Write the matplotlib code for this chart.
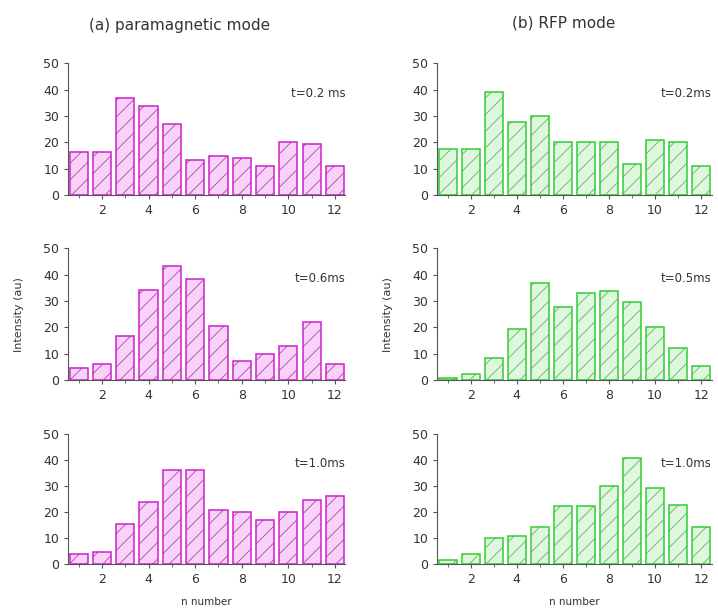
import matplotlib
matplotlib.use('Agg')
import matplotlib.pyplot as plt
from matplotlib.ticker import MultipleLocator

n = list(range(1, 13))

# (a) paramagnetic mode
para_02 = [16.5, 16.5, 36.8, 33.8, 27.0, 13.3, 14.8, 14.2, 11.0, 20.2, 19.6, 11.0]
para_06 = [4.5, 6.0, 16.8, 34.3, 43.4, 38.3, 20.5, 7.4, 10.0, 13.0, 22.0, 6.0]
para_10 = [3.8, 4.6, 15.4, 24.0, 36.2, 36.2, 20.9, 20.0, 17.0, 20.0, 24.7, 26.3]

# (b) RFP mode
rfp_02 = [17.5, 17.5, 39.0, 27.8, 30.0, 20.0, 20.0, 20.0, 11.8, 20.9, 20.0, 11.0]
rfp_06 = [0.6, 2.2, 8.2, 19.4, 36.7, 27.7, 32.9, 33.7, 29.6, 20.0, 12.3, 5.3]
rfp_10 = [1.4, 4.0, 10.0, 10.9, 14.1, 22.2, 22.2, 30.0, 40.8, 29.2, 22.8, 14.1]

labels_a = ['t=0.2 ms', 't=0.6ms', 't=1.0ms']
labels_b = ['t=0.2ms', 't=0.5ms', 't=1.0ms']

plt.rcParams['hatch.linewidth'] = 0.6

fig = plt.figure(figsize=(7.18, 6.10), dpi=100)

lefts = [0.095, 0.609]
widths = [0.386, 0.382]
bottoms = [0.680, 0.377, 0.0754]
heights = [0.216, 0.216, 0.213]

cols = [
    (para_02, para_06, para_10, labels_a, '#f9d2f9', '#cc22cc', '#b040b0'),
    (rfp_02, rfp_06, rfp_10, labels_b, '#def7de', '#33cc33', '#55bb55'),
]

for c, (s1, s2, s3, labs, face, edge, hatchc) in enumerate(cols):
    for r, vals in enumerate([s1, s2, s3]):
        ax = fig.add_axes([lefts[c], bottoms[r], widths[c], heights[r]])
        # hatched fill, then the outline on top
        ax.bar(n, vals, width=0.78, facecolor=face, edgecolor=hatchc,
               hatch='//', linewidth=0)
        ax.bar(n, vals, width=0.78, facecolor='none', edgecolor=edge, linewidth=1.1)
        ax.set_xlim(0.55, 12.45)
        ax.set_ylim(0, 50)
        ax.xaxis.set_major_locator(MultipleLocator(2))
        ax.xaxis.set_minor_locator(MultipleLocator(1))
        ax.yaxis.set_major_locator(MultipleLocator(10))
        ax.spines['top'].set_visible(False)
        ax.spines['right'].set_visible(False)
        ax.spines['left'].set_color('#555555')
        ax.spines['bottom'].set_color('#555555')
        ax.tick_params(direction='out', length=3, width=0.8, colors='#555555',
                       labelsize=9, labelcolor='#333333')
        ax.tick_params(which='minor', length=2, colors='#555555')
        ax.text(1.0, 0.77, labs[r], transform=ax.transAxes, ha='right', va='center',
                fontsize=8.5, color='#333333')
        if r == 1:
            ax.set_ylabel('Intensity (au)', fontsize=8, color='#333333', labelpad=14)
        if r == 2:
            ax.set_xlabel('n number', fontsize=7.5, color='#333333', labelpad=8)

fig.text(0.25, 0.958, '(a) paramagnetic mode', ha='center', va='center',
         fontsize=11, color='#333333')
fig.text(0.785, 0.962, '(b) RFP mode', ha='center', va='center',
         fontsize=11, color='#333333')

fig.savefig('out.png', dpi=100)
